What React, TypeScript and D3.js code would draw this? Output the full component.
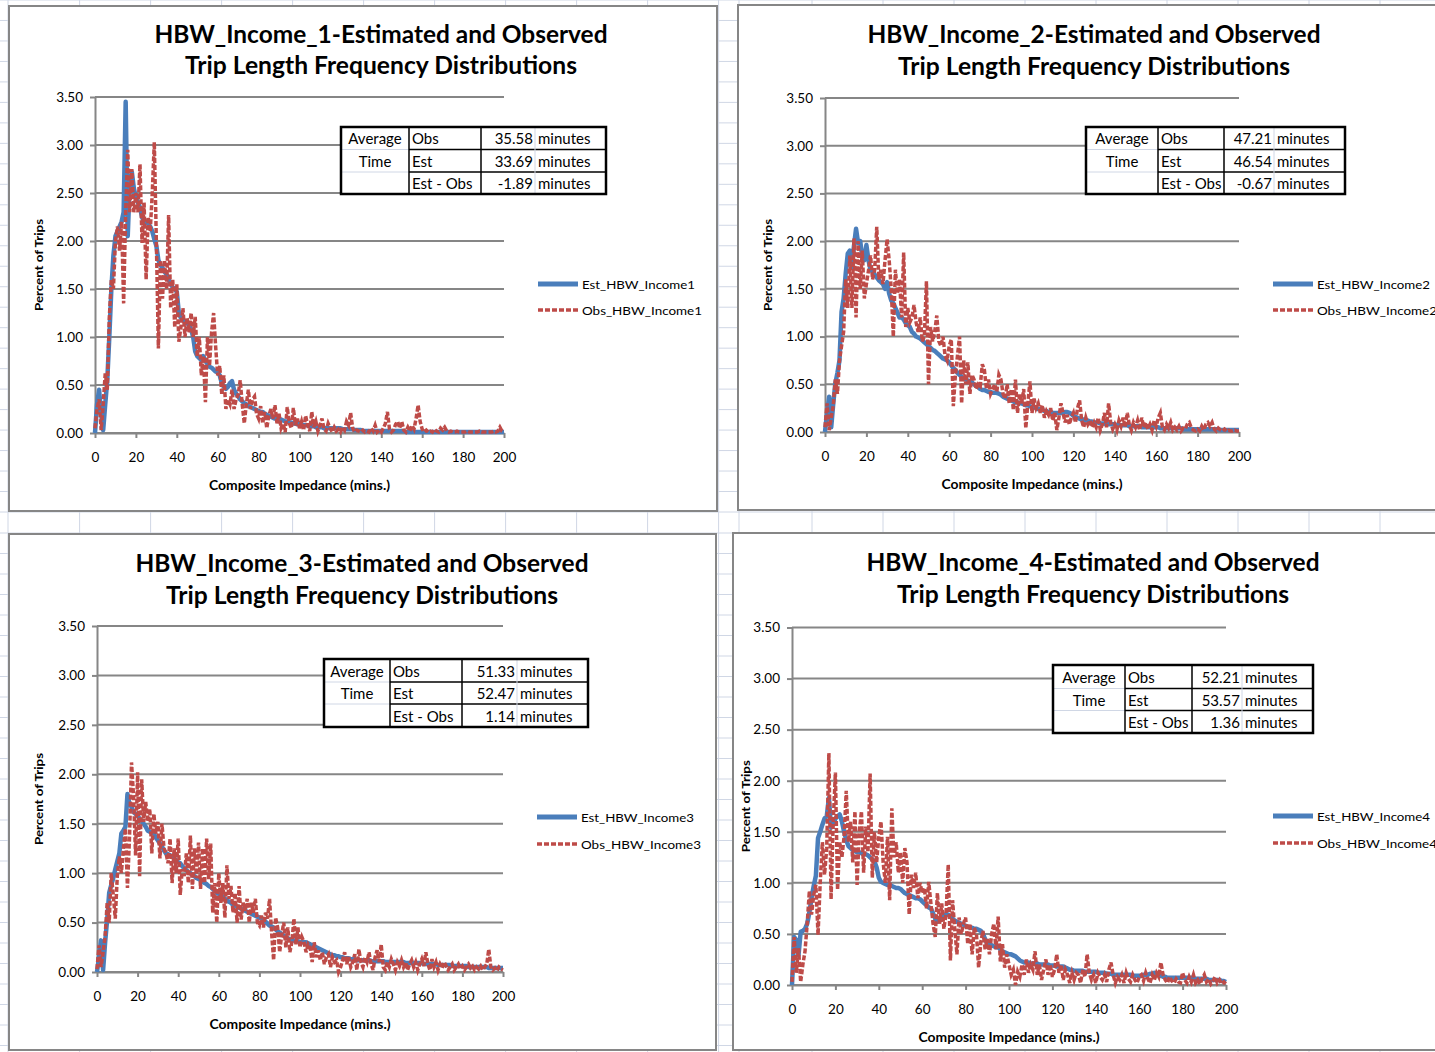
import React, { useEffect, useRef } from 'react';
import * as d3 from 'd3';

// ---- data ----
const minutes = d3.range(0, 201);
const yTicks = [0, 0.5, 1, 1.5, 2, 2.5, 3, 3.5];
const xTicks = [0, 20, 40, 60, 80, 100, 120, 140, 160, 180, 200];

const chartNames = ['HBW_Income_1', 'HBW_Income_2', 'HBW_Income_3', 'HBW_Income_4'];
const estNames = ['Est_HBW_Income1', 'Est_HBW_Income2', 'Est_HBW_Income3', 'Est_HBW_Income4'];
const obsNames = ['Obs_HBW_Income1', 'Obs_HBW_Income2', 'Obs_HBW_Income3', 'Obs_HBW_Income4'];
const avgObs = [35.58, 47.21, 51.33, 52.21];
const avgEst = [33.69, 46.54, 52.47, 53.57];
const avgDiff = [-1.89, -0.67, 1.14, 1.36];

const est1 = [
  0, 0.3, 0.45, 0.2, 0.03, 0.3, 0.55, 1.0, 1.5, 1.85,
  2.05, 2.1, 2.15, 2.2, 2.3, 3.45, 2.05, 2.6, 2.72, 2.55,
  2.45, 2.4, 2.35, 2.25, 2.2, 2.2, 2.18, 2.15, 2.1, 2.02,
  1.95, 1.8, 1.75, 1.72, 1.68, 1.65, 1.6, 1.55, 1.52, 1.5,
  1.47, 1.25, 1.2, 1.18, 1.16, 1.14, 1.13, 1.08, 1.0, 0.85,
  0.8, 0.78, 0.76, 0.8, 0.75, 0.72, 0.69, 0.68, 0.66, 0.64,
  0.63, 0.6, 0.52, 0.48, 0.46, 0.48, 0.52, 0.54, 0.45, 0.41,
  0.38, 0.35, 0.33, 0.31, 0.3, 0.28, 0.27, 0.26, 0.25, 0.24,
  0.23, 0.22, 0.22, 0.2, 0.19, 0.18, 0.17, 0.16, 0.15, 0.15,
  0.14, 0.14, 0.13, 0.12, 0.12, 0.11, 0.11, 0.1, 0.1, 0.09,
  0.09, 0.09, 0.08, 0.08, 0.08, 0.07, 0.07, 0.07, 0.06, 0.06,
  0.06, 0.06, 0.05, 0.05, 0.05, 0.05, 0.05, 0.05, 0.05, 0.05,
  0.05, 0.04, 0.04, 0.04, 0.04, 0.04, 0.04, 0.03, 0.03, 0.03,
  0.03, 0.02, 0.02, 0.02, 0.02, 0.02, 0.02, 0.02, 0.02, 0.02,
  0.02, 0.02, 0.02, 0.02, 0.02, 0.02, 0.02, 0.02, 0.02, 0.02,
  0.02, 0.02, 0.01, 0.01, 0.01, 0.01, 0.01, 0.01, 0.01, 0.01,
  0.01, 0.01, 0.01, 0.01, 0.01, 0.01, 0.01, 0.01, 0.01, 0.01,
  0.01, 0.01, 0.01, 0.01, 0.01, 0.01, 0.01, 0.01, 0.01, 0.01,
  0.01, 0.01, 0.01, 0.01, 0.01, 0.01, 0.01, 0.01, 0.01, 0.01,
  0.01, 0.01, 0.01, 0.01, 0.01, 0.01, 0.01, 0.01, 0.01, 0.01,
  0.01,
];
const obs1 = [
  0.05, 0.25, 0.35, 0.03, 0.3, 0.62, 0.45, 1.2, 1.6, 1.5,
  2.0, 2.15, 1.9, 2.2, 1.35, 2.3, 2.95, 2.3, 2.75, 2.3,
  2.5, 2.3, 2.8, 1.98, 2.4, 1.6, 2.25, 2.1, 2.5, 3.03,
  2.0, 0.88, 1.8, 1.4, 1.8, 1.5, 2.27, 1.3, 1.6, 1.1,
  1.55, 0.95, 1.1, 1.3, 1.0, 1.2, 1.05, 1.25, 1.0, 1.21,
  0.8, 1.0, 0.6, 0.8, 0.32, 1.0, 0.7, 1.05, 1.25, 0.9,
  0.6, 0.7, 0.4, 0.6, 0.25, 0.35, 0.3, 0.45, 0.25, 0.35,
  0.4, 0.55, 0.3, 0.1, 0.3, 0.45, 0.25, 0.35, 0.38, 0.2,
  0.15, 0.28, 0.1, 0.22, 0.05, 0.18, 0.25, 0.15, 0.29, 0.1,
  0.2, 0.05, 0.1, 0.01, 0.27, 0.1, 0.05, 0.26, 0.08, 0.15,
  0.05, 0.12, 0.03, 0.18, 0.08, 0.02, 0.22, 0.06, 0.12, 0.02,
  0.08, 0.15, 0.04, 0.02, 0.1, 0.05, 0.01, 0.06, 0.02, 0.04,
  0.01, 0.06, 0.03, 0.12, 0.08, 0.21, 0.05, 0.01, 0.03, 0.02,
  0.01, 0.03, 0.01, 0.02, 0.01, 0.05, 0.02, 0.08, 0.01, 0.03,
  0.01, 0.05, 0.1, 0.22, 0.04, 0.01, 0.03, 0.09, 0.12, 0.05,
  0.12, 0.03, 0.01, 0.06, 0.02, 0.08, 0.04, 0.15, 0.29, 0.12,
  0.04, 0.01, 0.03, 0.01, 0.02, 0.01, 0.04, 0.02, 0.01, 0.05,
  0.03, 0.06, 0.02, 0.01, 0.02, 0.01, 0.01, 0.02, 0.01, 0.01,
  0.01, 0.01, 0.02, 0.01, 0.01, 0.01, 0.01, 0.01, 0.02, 0.01,
  0.01, 0.01, 0.01, 0.01, 0.01, 0.02, 0.01, 0.02, 0.06, 0.02,
  0.01,
];
const est2 = [
  0, 0.2, 0.37, 0.05, 0.3, 0.51, 0.62, 0.75, 1.26, 1.4,
  1.66, 1.87, 1.9, 1.73, 1.95, 2.13, 1.98, 2.0, 1.84, 1.8,
  1.96, 1.8, 1.7, 1.68, 1.65, 1.62, 1.59, 1.57, 1.55, 1.5,
  1.57, 1.45, 1.38, 1.35, 1.3, 1.25, 1.2, 1.2, 1.18, 1.14,
  1.12, 1.1, 1.05, 1.03, 1.0, 0.99, 0.98, 0.96, 0.94, 0.92,
  0.9, 0.88, 0.86, 0.85, 0.83, 0.81, 0.79, 0.77, 0.76, 0.75,
  0.73, 0.7, 0.67, 0.65, 0.62, 0.6, 0.58, 0.56, 0.55, 0.54,
  0.53, 0.52, 0.5, 0.48, 0.47, 0.45, 0.44, 0.44, 0.43, 0.42,
  0.42, 0.41, 0.41, 0.41, 0.4, 0.39, 0.37, 0.36, 0.35, 0.34,
  0.33, 0.32, 0.31, 0.31, 0.3, 0.3, 0.29, 0.28, 0.28, 0.27,
  0.26, 0.26, 0.25, 0.24, 0.24, 0.23, 0.22, 0.22, 0.21, 0.21,
  0.2, 0.2, 0.2, 0.2, 0.2, 0.2, 0.21, 0.21, 0.2, 0.19,
  0.17, 0.16, 0.15, 0.14, 0.13, 0.13, 0.12, 0.12, 0.11, 0.11,
  0.1, 0.1, 0.1, 0.09, 0.09, 0.09, 0.08, 0.08, 0.08, 0.08,
  0.08, 0.07, 0.07, 0.07, 0.07, 0.07, 0.07, 0.06, 0.06, 0.06,
  0.06, 0.06, 0.06, 0.05, 0.05, 0.05, 0.05, 0.05, 0.05, 0.05,
  0.05, 0.05, 0.04, 0.04, 0.04, 0.04, 0.04, 0.04, 0.04, 0.04,
  0.04, 0.04, 0.04, 0.03, 0.03, 0.03, 0.03, 0.03, 0.03, 0.03,
  0.03, 0.03, 0.03, 0.03, 0.03, 0.03, 0.03, 0.03, 0.03, 0.03,
  0.03, 0.02, 0.02, 0.02, 0.02, 0.02, 0.02, 0.02, 0.02, 0.02,
  0.02,
];
const obs2 = [
  0.05, 0.3, 0.02, 0.15, 0.28, 0.55, 0.4, 0.75, 0.9, 1.05,
  1.6, 1.3, 1.85, 1.3, 2.03, 1.2, 2.0, 1.5, 1.9, 1.4,
  1.55, 1.69, 1.85, 1.6, 1.7, 2.15, 1.6, 1.7, 1.55, 1.8,
  2.02, 1.8, 1.5, 1.0, 1.7, 1.45, 1.6, 1.2, 1.88, 1.1,
  1.3, 1.15, 1.2, 1.33, 1.15, 1.05, 1.2, 0.95, 1.0, 1.58,
  0.5, 1.1, 0.95, 1.05, 1.22, 0.95, 0.9, 1.0, 0.8, 0.75,
  0.9, 0.97, 0.27, 0.6, 0.8, 1.0, 0.3, 0.75, 0.5, 0.73,
  0.4, 0.6, 0.55, 0.45, 0.5, 0.48, 0.71, 0.65, 0.45, 0.55,
  0.4, 0.45, 0.5, 0.42, 0.6, 0.55, 0.4, 0.35, 0.5, 0.3,
  0.45, 0.23, 0.55, 0.2, 0.4, 0.3, 0.45, 0.04, 0.3, 0.53,
  0.2, 0.35, 0.25, 0.3, 0.2, 0.28, 0.15, 0.22, 0.18, 0.25,
  0.12, 0.2, 0.02, 0.15, 0.3, 0.2, 0.1, 0.18, 0.08, 0.15,
  0.2, 0.1, 0.25, 0.33, 0.12, 0.05, 0.15, 0.08, 0.12, 0.05,
  0.1, 0.05, 0.15, 0.02, 0.08, 0.2, 0.05, 0.3, 0.1, 0.03,
  0.08, 0.02, 0.12, 0.06, 0.15, 0.05, 0.2, 0.08, 0.02, 0.1,
  0.05, 0.12, 0.02, 0.15, 0.05, 0.1, 0.03, 0.08, 0.02, 0.12,
  0.06, 0.15, 0.2, 0.05, 0.02, 0.08, 0.04, 0.1, 0.02, 0.05,
  0.02, 0.06, 0.01, 0.04, 0.03, 0.08, 0.1, 0.04, 0.02, 0.01,
  0.03, 0.01, 0.06, 0.02, 0.08, 0.1, 0.06, 0.1, 0.03, 0.01,
  0.04, 0.02, 0.01, 0.03, 0.01, 0.02, 0.01, 0.01, 0.02, 0.01,
  0.01,
];
const est3 = [
  0, 0.15, 0.32, 0.02, 0.3, 0.53, 0.8, 0.88, 0.95, 1.04,
  1.12, 1.2, 1.4, 1.43, 1.47, 1.8, 1.7, 1.67, 1.62, 1.6,
  1.58, 1.55, 1.53, 1.5, 1.47, 1.43, 1.42, 1.41, 1.4, 1.36,
  1.33, 1.3, 1.27, 1.23, 1.2, 1.19, 1.18, 1.17, 1.15, 1.13,
  1.11, 1.1, 1.07, 1.05, 1.03, 1.01, 1.0, 0.98, 0.97, 0.95,
  0.94, 0.93, 0.91, 0.9, 0.89, 0.87, 0.86, 0.84, 0.82, 0.8,
  0.79, 0.78, 0.76, 0.74, 0.73, 0.71, 0.7, 0.68, 0.67, 0.66,
  0.65, 0.64, 0.63, 0.62, 0.61, 0.6, 0.59, 0.58, 0.57, 0.56,
  0.55, 0.54, 0.53, 0.51, 0.49, 0.47, 0.46, 0.45, 0.43, 0.41,
  0.4, 0.38, 0.37, 0.35, 0.34, 0.33, 0.32, 0.32, 0.31, 0.31,
  0.3, 0.3, 0.3, 0.3, 0.29, 0.28, 0.27, 0.26, 0.25, 0.24,
  0.23, 0.22, 0.21, 0.2, 0.19, 0.18, 0.17, 0.17, 0.16, 0.16,
  0.15, 0.15, 0.14, 0.14, 0.14, 0.13, 0.13, 0.13, 0.12, 0.12,
  0.12, 0.12, 0.12, 0.12, 0.12, 0.11, 0.11, 0.11, 0.11, 0.11,
  0.11, 0.11, 0.1, 0.1, 0.1, 0.1, 0.1, 0.1, 0.1, 0.1,
  0.1, 0.1, 0.09, 0.09, 0.09, 0.09, 0.09, 0.09, 0.09, 0.09,
  0.09, 0.08, 0.08, 0.08, 0.08, 0.08, 0.08, 0.08, 0.07, 0.07,
  0.07, 0.07, 0.07, 0.07, 0.07, 0.06, 0.06, 0.06, 0.06, 0.06,
  0.06, 0.06, 0.06, 0.05, 0.05, 0.05, 0.05, 0.05, 0.05, 0.05,
  0.05, 0.05, 0.05, 0.04, 0.04, 0.04, 0.04, 0.04, 0.04, 0.04,
  0.04,
];
const obs3 = [
  0.03, 0.27, 0.05, 0.2, 0.36, 0.7, 0.5, 1.0, 0.78, 0.54,
  0.97, 1.17, 1.0, 1.25, 1.45, 0.85, 1.35, 2.12, 1.78, 1.18,
  2.02, 0.97, 1.95, 1.52, 1.72, 1.52, 1.65, 1.2, 1.6, 1.4,
  1.52, 1.15, 1.5, 1.25, 1.2, 1.1, 1.35, 0.9, 1.25, 1.0,
  1.35, 0.78, 1.04, 0.97, 1.2, 0.9, 1.38, 0.84, 1.25, 0.95,
  1.31, 0.84, 1.25, 0.9, 1.35, 0.94, 1.3, 0.6, 0.9, 0.5,
  1.0, 0.7, 0.9, 0.55, 1.08, 0.74, 0.87, 0.6, 0.8, 0.5,
  0.87, 0.53, 0.7, 0.62, 0.74, 0.5, 0.7, 0.6, 0.74, 0.5,
  0.47, 0.57, 0.45, 0.6, 0.54, 0.74, 0.4, 0.12, 0.55, 0.45,
  0.2, 0.38, 0.5, 0.25, 0.45, 0.2, 0.3, 0.54, 0.28, 0.45,
  0.25, 0.35, 0.3, 0.2, 0.28, 0.25, 0.1, 0.3, 0.15, 0.22,
  0.12, 0.2, 0.08, 0.15, 0.18, 0.05, 0.15, 0.1, 0.12, 0.0,
  0.05, 0.12, 0.2, 0.08, 0.15, 0.05, 0.1, 0.18, 0.02, 0.23,
  0.1, 0.05, 0.15, 0.1, 0.2, 0.08, 0.02, 0.15, 0.22, 0.1,
  0.28, 0.05, 0.02, 0.1, 0.05, 0.13, 0.08, 0.02, 0.1, 0.06,
  0.12, 0.05, 0.1, 0.02, 0.08, 0.12, 0.05, 0.1, 0.02, 0.08,
  0.13, 0.06, 0.2, 0.08, 0.02, 0.13, 0.05, 0.1, 0.02, 0.08,
  0.04, 0.1, 0.06, 0.02, 0.05, 0.08, 0.02, 0.05, 0.08, 0.03,
  0.06, 0.02, 0.05, 0.08, 0.04, 0.06, 0.02, 0.05, 0.03, 0.06,
  0.02, 0.05, 0.08, 0.23, 0.05, 0.02, 0.04, 0.01, 0.05, 0.03,
  0.02,
];
const est4 = [
  0, 0.47, 0.44, 0.29, 0.52, 0.53, 0.55, 0.6, 0.71, 0.85,
  0.97, 1.07, 1.44, 1.5, 1.57, 1.63, 1.65, 1.83, 1.54, 1.58,
  1.63, 1.65, 1.67, 1.6, 1.5, 1.42, 1.36, 1.34, 1.32, 1.31,
  1.3, 1.3, 1.29, 1.28, 1.28, 1.27, 1.25, 1.23, 1.21, 1.15,
  1.05, 1.01, 1.0, 0.99, 0.98, 0.98, 0.97, 0.96, 0.95, 0.95,
  0.94, 0.92, 0.9, 0.89, 0.88, 0.87, 0.86, 0.85, 0.85, 0.84,
  0.82, 0.8, 0.78, 0.76, 0.75, 0.7, 0.65, 0.62, 0.63, 0.66,
  0.68, 0.69, 0.69, 0.67, 0.65, 0.63, 0.62, 0.61, 0.6, 0.59,
  0.58, 0.57, 0.56, 0.56, 0.55, 0.55, 0.54, 0.53, 0.5, 0.45,
  0.4, 0.4, 0.39, 0.38, 0.37, 0.37, 0.35, 0.33, 0.32, 0.31,
  0.3, 0.3, 0.29, 0.28, 0.26, 0.24, 0.23, 0.22, 0.22, 0.22,
  0.21, 0.21, 0.21, 0.21, 0.2, 0.2, 0.2, 0.2, 0.2, 0.19,
  0.19, 0.19, 0.18, 0.18, 0.18, 0.18, 0.17, 0.16, 0.15, 0.15,
  0.14, 0.14, 0.14, 0.14, 0.14, 0.13, 0.13, 0.13, 0.13, 0.13,
  0.13, 0.12, 0.12, 0.12, 0.12, 0.11, 0.11, 0.11, 0.1, 0.1,
  0.1, 0.1, 0.1, 0.1, 0.1, 0.1, 0.1, 0.09, 0.09, 0.09,
  0.09, 0.09, 0.1, 0.1, 0.1, 0.11, 0.11, 0.12, 0.11, 0.1,
  0.09, 0.08, 0.08, 0.07, 0.07, 0.07, 0.07, 0.07, 0.07, 0.07,
  0.07, 0.07, 0.07, 0.07, 0.07, 0.06, 0.06, 0.06, 0.06, 0.06,
  0.06, 0.06, 0.05, 0.05, 0.05, 0.05, 0.05, 0.05, 0.04, 0.04,
  0.03,
];
const obs4 = [
  0.03, 0.47, 0.12, 0.36, 0.03, 0.2, 0.33, 0.6, 0.92, 0.69,
  0.88, 0.98, 0.49, 1.0, 1.4, 1.08, 1.34, 2.27, 0.84, 1.6,
  2.08, 0.93, 1.4, 1.25, 1.45, 1.9, 1.4, 1.6, 1.2, 1.7,
  0.98, 1.5, 1.7, 1.1, 1.55, 1.3, 2.07, 1.05, 1.5, 1.2,
  1.45, 1.6, 1.2, 1.0, 1.45, 0.83, 1.73, 1.25, 1.4, 1.1,
  1.3, 1.0, 1.34, 1.2, 0.69, 1.08, 0.95, 1.1, 0.85, 1.0,
  0.9, 0.95, 0.75, 1.01, 0.8, 0.6, 0.47, 0.9, 0.6, 0.8,
  0.55, 0.7, 1.18, 0.24, 0.83, 0.55, 0.3, 0.66, 0.5, 0.6,
  0.66, 0.4, 0.6, 0.3, 0.56, 0.5, 0.17, 0.42, 0.53, 0.35,
  0.45, 0.3, 0.5, 0.6, 0.35, 0.67, 0.23, 0.4, 0.17, 0.3,
  0.2, 0.1, 0.15, 0.0, 0.13, 0.08, 0.2, 0.1, 0.25, 0.12,
  0.2, 0.15, 0.33, 0.1, 0.2, 0.05, 0.15, 0.25, 0.1, 0.2,
  0.08, 0.15, 0.3, 0.12, 0.2, 0.05, 0.15, 0.1, 0.02, 0.12,
  0.05, 0.12, 0.1, 0.02, 0.15, 0.08, 0.3, 0.12, 0.05, 0.1,
  0.02, 0.12, 0.08, 0.05, 0.1, 0.03, 0.15, 0.22, 0.1, 0.02,
  0.08, 0.05, 0.1, 0.02, 0.12, 0.06, 0.03, 0.1, 0.05, 0.02,
  0.08, 0.1, 0.04, 0.12, 0.06, 0.02, 0.1, 0.05, 0.12, 0.08,
  0.22, 0.1, 0.05, 0.02, 0.08, 0.04, 0.02, 0.06, 0.03, 0.02,
  0.12, 0.05, 0.02, 0.08, 0.03, 0.1, 0.02, 0.05, 0.01, 0.06,
  0.1, 0.03, 0.06, 0.01, 0.04, 0.08, 0.02, 0.05, 0.01, 0.03,
  0.01,
];

const estSeries = [est1, est2, est3, est4];
const obsSeries = [obs1, obs2, obs3, obs4];

// ---- layout (screen positions of each chart block) ----
const layouts = [
  { frame: [9, 6, 717, 511], x0: 95, x1: 504, y0: 433, y1: 97, tx: 381, ty: [33, 64], xTitleY: 485, yTitleX: 38,
    tcols: [341, 409, 481, 535, 606], trows: [127, 149.5, 172, 194], lx: 538, ly: [284, 310] },
  { frame: [738, 5, 1445, 510], x0: 825, x1: 1239, y0: 432, y1: 98, tx: 1094, ty: [33, 65], xTitleY: 484, yTitleX: 767,
    tcols: [1086, 1158, 1224, 1274, 1345], trows: [127, 149.5, 172, 194], lx: 1273, ly: [284, 310] },
  { frame: [9, 534, 716, 1050], x0: 97, x1: 503, y0: 972, y1: 626, tx: 362, ty: [562, 594], xTitleY: 1024, yTitleX: 38,
    tcols: [324, 390, 462, 517, 588], trows: [659, 682, 704, 727], lx: 537, ly: [817, 844] },
  { frame: [733, 533, 1445, 1050], x0: 792, x1: 1226, y0: 985, y1: 627.5, tx: 1093, ty: [561, 593], xTitleY: 1037, yTitleX: 745,
    tcols: [1053, 1125, 1192, 1242, 1313], trows: [665, 688.5, 710.5, 733], lx: 1273, ly: [816, 843] },
];

const FONT = "Lato, 'Open Sans', sans-serif";
const BLUE = '#4A7EBB';
const RED = '#BE4B48';
const GRID = '#868686';
const CELL = '#D0D7E5';
const DASH = '5,2';

const drawChart = (svg, L, i) => {
  const g = svg.append('g');
  const [fx0, fy0, fx1, fy1] = L.frame;
  g.append('rect')
    .attr('x', fx0).attr('y', fy0)
    .attr('width', fx1 - fx0).attr('height', fy1 - fy0)
    .attr('fill', '#fff').attr('stroke', GRID).attr('stroke-width', 2);

  const x = d3.scaleLinear().domain([0, 200]).range([L.x0, L.x1]);
  const y = d3.scaleLinear().domain([0, 3.5]).range([L.y0, L.y1]);

  // horizontal gridlines
  yTicks.forEach(t => {
    g.append('line')
      .attr('x1', L.x0).attr('x2', L.x1)
      .attr('y1', y(t)).attr('y2', y(t))
      .attr('stroke', GRID).attr('stroke-width', 2);
  });

  const yAxis = g.append('g')
    .attr('transform', `translate(${L.x0},0)`)
    .call(d3.axisLeft(y).tickValues(yTicks).tickFormat(d3.format('.2f')).tickSize(5).tickSizeOuter(0).tickPadding(7));
  const xAxis = g.append('g')
    .attr('transform', `translate(0,${L.y0})`)
    .call(d3.axisBottom(x).tickValues(xTicks).tickFormat(d3.format('d')).tickSize(5).tickSizeOuter(0).tickPadding(14));
  [yAxis, xAxis].forEach(a => {
    a.select('.domain').attr('stroke', GRID).attr('stroke-width', 2);
    a.selectAll('.tick line').attr('stroke', GRID).attr('stroke-width', 2);
    a.selectAll('.tick text').attr('fill', '#000').style('font-family', FONT).style('font-size', '13.5px');
  });

  // series
  const line = d3.line().x((d, k) => x(minutes[k])).y(d => y(d));
  g.append('path').datum(estSeries[i])
    .attr('fill', 'none').attr('stroke', BLUE).attr('stroke-width', 4.5)
    .attr('stroke-linejoin', 'round').attr('d', line);
  g.append('path').datum(obsSeries[i])
    .attr('fill', 'none').attr('stroke', RED).attr('stroke-width', 3.5)
    .attr('stroke-dasharray', DASH).attr('d', line);

  // titles
  g.append('text')
    .attr('x', L.tx).attr('y', L.ty[0]).attr('text-anchor', 'middle').attr('dominant-baseline', 'central')
    .style('font-family', FONT).style('font-weight', 700).style('font-size', '24px')
    .attr('textLength', 453).attr('lengthAdjust', 'spacingAndGlyphs')
    .text(`${chartNames[i]}-Estimated and Observed`);
  g.append('text')
    .attr('x', L.tx).attr('y', L.ty[1]).attr('text-anchor', 'middle').attr('dominant-baseline', 'central')
    .style('font-family', FONT).style('font-weight', 700).style('font-size', '24px')
    .attr('textLength', 392).attr('lengthAdjust', 'spacingAndGlyphs')
    .text('Trip Length Frequency Distributions');

  g.append('text')
    .attr('x', (L.x0 + L.x1) / 2).attr('y', L.xTitleY).attr('text-anchor', 'middle').attr('dominant-baseline', 'central')
    .style('font-family', FONT).style('font-weight', 700).style('font-size', '12.5px')
    .attr('textLength', 181).attr('lengthAdjust', 'spacingAndGlyphs')
    .text('Composite Impedance (mins.)');
  const yc = (L.y0 + L.y1) / 2;
  g.append('text')
    .attr('transform', `translate(${L.yTitleX},${yc}) rotate(-90)`)
    .attr('text-anchor', 'middle').attr('dominant-baseline', 'central')
    .style('font-family', FONT).style('font-weight', 700).style('font-size', '12px')
    .attr('textLength', 92).attr('lengthAdjust', 'spacingAndGlyphs')
    .text('Percent of Trips');

  // legend
  [[estNames[i], BLUE, 5, null, 113], [obsNames[i], RED, 3.5, DASH, 120]].forEach(([name, color, w, dash, len], k) => {
    const ly = L.ly[k];
    g.append('line')
      .attr('x1', L.lx).attr('x2', L.lx + 40).attr('y1', ly).attr('y2', ly)
      .attr('stroke', color).attr('stroke-width', w).attr('stroke-dasharray', dash);
    g.append('text')
      .attr('x', L.lx + 44).attr('y', ly).attr('dominant-baseline', 'central')
      .style('font-family', FONT).style('font-size', '12px')
      .attr('textLength', len).attr('lengthAdjust', 'spacingAndGlyphs')
      .text(name);
  });

  // average time table
  const [c0, c1, c2, c3, c4] = L.tcols;
  const [r0, r1, r2, r3] = L.trows;
  const t = g.append('g');
  t.append('rect').attr('x', c0).attr('y', r0).attr('width', c4 - c0).attr('height', r3 - r0).attr('fill', '#fff');
  [r1, r2].forEach(r => {
    t.append('line').attr('x1', c0).attr('x2', c1).attr('y1', r).attr('y2', r).attr('stroke', CELL).attr('stroke-width', 1);
    t.append('line').attr('x1', c1).attr('x2', c4).attr('y1', r).attr('y2', r).attr('stroke', '#000').attr('stroke-width', 1.5);
  });
  t.append('line').attr('x1', c3).attr('x2', c3).attr('y1', r0).attr('y2', r3).attr('stroke', CELL).attr('stroke-width', 1);
  [c1, c2].forEach(c => {
    t.append('line').attr('x1', c).attr('x2', c).attr('y1', r0).attr('y2', r3).attr('stroke', '#000').attr('stroke-width', 1.5);
  });
  t.append('rect').attr('x', c0).attr('y', r0).attr('width', c4 - c0).attr('height', r3 - r0)
    .attr('fill', 'none').attr('stroke', '#000').attr('stroke-width', 2.5);

  const rowMid = [(r0 + r1) / 2, (r1 + r2) / 2, (r2 + r3) / 2];
  const cell = (tx, ty, s, anchor) =>
    t.append('text').attr('x', tx).attr('y', ty).attr('text-anchor', anchor).attr('dominant-baseline', 'central')
      .style('font-family', FONT).style('font-size', '15px').attr('fill', '#000').text(s);
  cell((c0 + c1) / 2, rowMid[0], 'Average', 'middle');
  cell((c0 + c1) / 2, rowMid[1], 'Time', 'middle');
  const fmt = d3.format('.2f');
  [['Obs', avgObs[i]], ['Est', avgEst[i]], ['Est - Obs', avgDiff[i]]].forEach(([lab, v], k) => {
    cell(c1 + 3, rowMid[k], lab, 'start');
    cell(c3 - 2, rowMid[k], fmt(v).replace('\u2212', '-'), 'end');
    cell(c3 + 3, rowMid[k], 'minutes', 'start');
  });
};

const App = () => {
  const ref = useRef(null);

  useEffect(() => {
    const svg = d3.select(ref.current);
    svg.selectAll('*').remove();

    // spreadsheet cell grid behind the charts
    const cells = svg.append('g');
    const colX = [8, ...d3.range(79.6, 720, 71), 739, ...d3.range(812, 1435, 71)];
    colX.forEach(cx => {
      cells.append('line').attr('x1', cx).attr('x2', cx).attr('y1', 0).attr('y2', 1052)
        .attr('stroke', CELL).attr('stroke-width', 1);
    });
    const rowY = [...d3.range(0, 513, 20.48), ...d3.range(533, 1052, 20.5)];
    rowY.forEach(ry => {
      cells.append('line').attr('x1', 0).attr('x2', 1435).attr('y1', ry).attr('y2', ry)
        .attr('stroke', CELL).attr('stroke-width', 1);
    });

    layouts.forEach((L, i) => drawChart(svg, L, i));
  }, []);

  return (
    <div style={{ position: 'absolute', left: 0, top: 0 }}>
      <svg ref={ref} width={1435} height={1052} style={{ display: 'block', background: '#fff', overflow: 'hidden' }} />
    </div>
  );
};

export default App;
